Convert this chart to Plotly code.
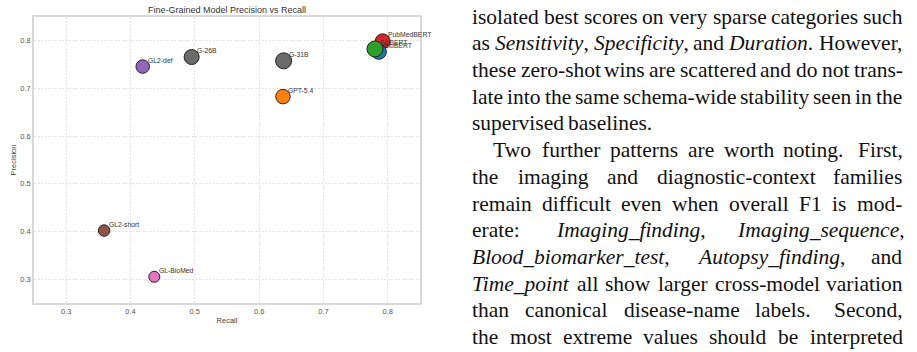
import plotly.graph_objects as go

# ---------------- data ----------------
models = ["PubMedBERT", "BioBERT", "SciBERT", "GPT-5.4", "G-26B", "G-31B",
          "GL2-def", "GL2-short", "GL-BioMed"]
recall = [0.792, 0.786, 0.780, 0.637, 0.495, 0.638, 0.419, 0.359, 0.437]
precision = [0.799, 0.777, 0.783, 0.683, 0.766, 0.758, 0.746, 0.402, 0.305]
colors = ["#d62728", "#1f77b4", "#2ca02c", "#ff7f0e", "#6b6b6b", "#6b6b6b",
          "#9467bd", "#8c564b", "#e377c2"]
sizes = [15, 15, 16, 14.5, 15, 16, 13.5, 11.5, 11]
tick_vals = [0.3, 0.4, 0.5, 0.6, 0.7, 0.8]

text_lines = [
    "isolated best scores on very sparse categories such",
    "as *Sensitivity*, *Specificity*, and *Duration*. However,",
    "these zero-shot wins are scattered and do not trans-",
    "late into the same schema-wide stability seen in the",
    "supervised baselines.",
    "Two further patterns are worth noting. First,",
    "the imaging and diagnostic-context families",
    "remain difficult even when overall F1 is mod-",
    "erate: *Imaging_finding*, *Imaging_sequence*,",
    "*Blood_biomarker_test*, *Autopsy_finding*, and",
    "*Time_point* all show larger cross-model variation",
    "than canonical disease-name labels. Second,",
    "the most extreme values should be interpreted",
]
line_indent = [0, 0, 0, 0, 0, 1, 0, 0, 0, 0, 0, 0, 0]
line_justify = [1, 1, 1, 1, 0, 1, 1, 1, 1, 1, 1, 1, 1]

# ---------------- layout constants ----------------
W, H = 917, 352
PL, PR, PT, PB = 30, 420, 17, 303  # plot area in pixels


def px_x(px):
    return (px - PL) / (PR - PL)


def px_y(py):
    return (PB - py) / (PB - PT)


# Times metrics (1/1000 em)
ROMAN = dict(zip(" ,-.:_15", [250, 250, 333, 250, 278, 500, 500, 500]))
ROMAN.update(zip("ABCDEFGHIJKLMNOPQRSTUVWXYZ",
                 [722, 667, 667, 722, 611, 556, 722, 722, 333, 389, 722, 611, 889,
                  722, 722, 556, 722, 667, 556, 611, 722, 722, 944, 722, 722, 611]))
ROMAN.update(zip("abcdefghijklmnopqrstuvwxyz",
                 [444, 500, 444, 500, 444, 333, 500, 500, 278, 278, 500, 278, 778,
                  500, 500, 500, 500, 333, 389, 278, 500, 500, 722, 500, 500, 444]))
ITALIC = dict(zip(" ,-.:_15", [250, 250, 333, 250, 333, 500, 500, 500]))
ITALIC.update(zip("ABCDEFGHIJKLMNOPQRSTUVWXYZ",
                  [611, 611, 667, 722, 611, 611, 722, 722, 333, 444, 667, 556, 833,
                   667, 722, 611, 722, 611, 500, 556, 722, 611, 833, 611, 556, 556]))
ITALIC.update(zip("abcdefghijklmnopqrstuvwxyz",
                  [500, 500, 444, 500, 444, 278, 500, 500, 278, 278, 444, 278, 722,
                   500, 500, 500, 500, 389, 389, 278, 500, 500, 667, 444, 444, 389]))

FS = 21.5
TEXT_LEFT, TEXT_RIGHT = 472.7, 907.0
BASE0, LEAD, INDENT = 22.7, 26.7, 21.0


def word_parts(word):
    parts = word.split("*")
    segs = []
    for i, p in enumerate(parts):
        if p:
            segs.append((p, i % 2 == 1))
    return segs


def word_width(segs):
    w = 0
    for txt, it in segs:
        tab = ITALIC if it else ROMAN
        w += sum(tab.get(c, 500) for c in txt)
    return w * FS / 1000.0


def word_html(segs):
    return "".join(f"<i>{t}</i>" if it else t for t, it in segs)


annotations = []

# point labels
for name, r, p in zip(models, recall, precision):
    annotations.append(dict(
        x=r, y=p, xref="x", yref="y", text=name, showarrow=False,
        xanchor="left", yanchor="middle", xshift=5, yshift=6.5,
        font=dict(family="Liberation Sans, Arial", size=6.8, color="#333333"),
        borderpad=0, borderwidth=0))

# paragraph text, justified word by word
for i, line in enumerate(text_lines):
    words = line.split(" ")
    segs = [word_parts(w) for w in words]
    widths = [word_width(s) for s in segs]
    left = TEXT_LEFT + INDENT * line_indent[i]
    space = 0.25 * FS
    nat_gaps, weights = [], []
    for w in words[:-1]:
        if w.rstrip("*").endswith("."):
            nat_gaps.append(space + 0.1 * FS)
            weights.append(1.5)
        elif w.rstrip("*").endswith(":"):
            nat_gaps.append(space)
            weights.append(1.1)
        else:
            nat_gaps.append(space)
            weights.append(1.0)
    if line_justify[i] and len(words) > 1:
        extra = (TEXT_RIGHT - left) - sum(widths) - sum(nat_gaps)
        unit = extra / sum(weights)
        gaps = [g + unit * wt for g, wt in zip(nat_gaps, weights)]
    else:
        gaps = nat_gaps
    x = left
    base = BASE0 + LEAD * i
    ymid = base - 0.28 * FS
    for k, s in enumerate(segs):
        annotations.append(dict(
            x=px_x(x), y=px_y(ymid), xref="paper", yref="paper",
            text=word_html(s), showarrow=False, xanchor="left", yanchor="middle",
            font=dict(family="Liberation Serif, Times New Roman", size=FS, color="#111111"),
            borderpad=0, borderwidth=0))
        if k < len(gaps):
            x += widths[k] + gaps[k]

fig = go.Figure()
fig.add_trace(go.Scatter(
    x=recall, y=precision, mode="markers", text=models,
    marker=dict(color=colors, size=sizes, opacity=1,
                line=dict(color="#222222", width=1)),
    hoverinfo="text", showlegend=False))

axis_common = dict(
    range=[0.25, 0.85], tickvals=tick_vals, tickformat=".1f",
    showgrid=True, gridcolor="#e4e4e4", griddash="2px,1.5px", gridwidth=1,
    showline=True, mirror=True, linecolor="#d9d9d9", linewidth=1.6,
    zeroline=False, ticks="",
    tickfont=dict(family="Liberation Sans, Arial", size=7.5, color="#555555"),
)

fig.update_layout(
    width=W, height=H,
    margin=dict(l=PL, r=W - PR, t=PT, b=H - PB, pad=0),
    paper_bgcolor="white", plot_bgcolor="white",
    title=dict(text="Fine-Grained Model Precision vs Recall",
               font=dict(family="Liberation Sans, Arial", size=9, color="#333333"),
               x=0.5, xref="paper", xanchor="center",
               y=1 - 10 / H, yref="container", yanchor="middle"),
    xaxis=dict(**axis_common,
               title=dict(text="Recall", standoff=3,
                          font=dict(family="Liberation Sans, Arial", size=7.5, color="#444444"))),
    yaxis=dict(**axis_common,
               title=dict(text="Precision", standoff=3,
                          font=dict(family="Liberation Sans, Arial", size=7.5, color="#444444"))),
    annotations=annotations,
)

fig.write_html("out.html")
